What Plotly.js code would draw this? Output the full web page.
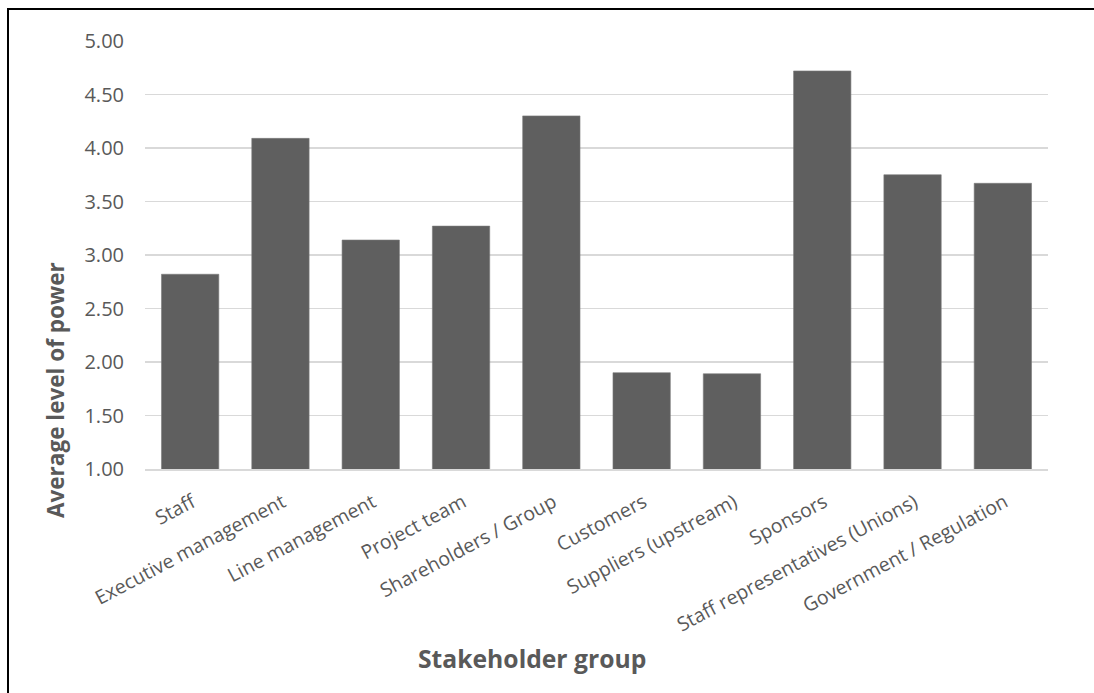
<!DOCTYPE html>
<html>
<head>
<meta charset="utf-8">
<script src="https://cdn.plot.ly/plotly-3.0.1.min.js"></script>
<style>
html,body{margin:0;padding:0;background:#fff;}
#chart{width:1094px;height:693px;}
</style>
</head>
<body>
<div id="chart"></div>
<script>
const categories = ["Staff","Executive management","Line management","Project team","Shareholders / Group","Customers","Suppliers (upstream)","Sponsors","Staff representatives (Unions)","Government / Regulation"];
const values = [2.82, 4.09, 3.14, 3.27, 4.30, 1.90, 1.89, 4.72, 3.75, 3.67];
const yTickVals = [1.00,1.50,2.00,2.50,3.00,3.50,4.00,4.50,5.00];
const yTickText = ["1.00","1.50","2.00","2.50","3.00","3.50","4.00","4.50","5.00"];
const xTitle = "Stakeholder group";
const yTitle = "Average level of power";

const W = 1094, H = 693, ML = 145, MR = 46, MT = 41, MB = 224;
const PW = W - ML - MR, PH = H - MT - MB;
const px = v => (v - ML) / PW;
const py = v => (H - MB - v) / PH;

const fontFam = '"Open Sans", "Noto Sans", sans-serif';
const trace = {
  type:'bar', x:categories, y:values,
  marker:{color:'#5f5f5f', line:{color:'#7a7a7a', width:0.6}},
  hoverinfo:'x+y'
};
const layout = {
  width:W, height:H,
  margin:{l:ML, r:MR, t:MT, b:MB},
  paper_bgcolor:'#fff', plot_bgcolor:'#fff',
  bargap:0.365,
  showlegend:false,
  font:{family:fontFam, color:'#595959', size:19},
  xaxis:{
    type:'category', tickangle:-28, showgrid:false, zeroline:false,
    showline:true, linecolor:'#d9d9d9', linewidth:1.5,
    ticks:'', ticklabelstandoff:13, ticklabelshift:2,
    tickfont:{size:19.5, color:'#595959', family:fontFam}
  },
  yaxis:{
    range:[1,5], tickvals:yTickVals, ticktext:yTickText,
    showgrid:true, gridcolor:'#d9d9d9', gridwidth:1.5, zeroline:false,
    showline:false, ticks:'', ticklabelstandoff:20,
    tickfont:{size:20, color:'#595959', family:fontFam}
  },
  shapes:[
    {type:'line', xref:'paper', yref:'paper', x0:px(8), x1:px(8), y0:py(H+5), y1:py(9), line:{color:'#000', width:2}},
    {type:'line', xref:'paper', yref:'paper', x0:px(7), x1:px(W+5), y0:py(9), y1:py(9), line:{color:'#000', width:2}}
  ],
  annotations:[
    {text:yTitle, xref:'paper', yref:'paper', x:px(55), y:py(390), showarrow:false,
     textangle:-90, xanchor:'center', yanchor:'middle',
     font:{size:22.5, color:'#595959', family:fontFam, weight:'bold'}},
    {text:xTitle, xref:'paper', yref:'paper', x:px(532), y:py(658), showarrow:false,
     xanchor:'center', yanchor:'middle',
     font:{size:24.7, color:'#595959', family:fontFam, weight:'bold'}}
  ]
};
Plotly.newPlot('chart',[trace],layout,{displayModeBar:false,staticPlot:true});
</script>
</body>
</html>
